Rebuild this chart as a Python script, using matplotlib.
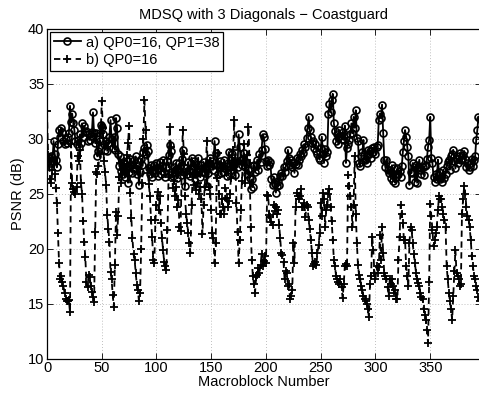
import numpy as np
import matplotlib
matplotlib.use("Agg")
import matplotlib.pyplot as plt

plt.rcParams['font.family'] = ['Liberation Sans', 'DejaVu Sans']
plt.rcParams['font.size'] = 10.5

title = "MDSQ with 3 Diagonals \u2212 Coastguard"
xlabel = "Macroblock Number"
ylabel = "PSNR (dB)"
label_a = "a) QP0=16, QP1=38"
label_b = "b) QP0=16"

psnr_a = [
    28.2, 28.0, 28.3, 27.8, 28.4, 28.0, 29.8, 28.6, 28.1, 27.4,
    29.5, 30.8, 30.2, 31.0, 30.6, 29.8, 29.5, 30.0, 29.6, 30.2,
    30.5, 33.0, 31.5, 32.3, 31.4, 30.8, 29.8, 29.5, 29.9, 29.3,
    30.4, 29.6, 31.4, 30.2, 31.2, 30.6, 30.7, 29.8, 30.4, 29.9,
    30.3, 30.6, 32.4, 30.5, 29.6, 30.5, 28.4, 28.9, 29.8, 31.3,
    31.1, 30.4, 29.5, 29.0, 29.8, 28.9, 29.6, 30.2, 31.7, 30.0,
    29.2, 30.2, 29.0, 31.9, 31.0, 28.6, 27.5, 28.4, 27.1, 26.8,
    27.8, 26.5, 27.4, 28.0, 26.0, 27.0, 28.2, 27.6, 26.9, 28.1,
    27.3, 28.4, 26.8, 27.5, 25.8, 27.0, 28.2, 27.6, 28.8, 29.2,
    28.6, 29.4, 28.9, 27.3, 26.8, 27.6, 26.5, 27.2, 27.6, 26.9,
    27.8, 26.6, 27.3, 27.9, 26.8, 27.5, 28.1, 27.0, 26.5, 27.4,
    28.0, 28.5, 29.4, 28.9, 27.0, 26.6, 27.4, 26.9, 27.8, 26.4,
    27.2, 27.8, 26.7, 28.2, 29.0, 27.0, 25.7, 27.3, 26.8, 27.9,
    27.2, 26.6, 28.3, 27.5, 28.0, 26.8, 27.6, 27.0, 28.3, 27.1,
    26.5, 27.6, 27.0, 27.9, 26.9, 27.4, 25.7, 26.9, 27.8, 28.3,
    27.5, 28.0, 27.2, 29.8, 28.7, 27.6, 26.8, 27.4, 28.0, 26.9,
    27.5, 27.0, 28.1, 27.3, 26.6, 27.8, 28.8, 27.5, 26.9, 28.6,
    27.2, 27.9, 26.7, 28.0, 27.4, 30.4, 29.3, 28.1, 27.6, 28.2,
    28.7, 27.4, 27.9, 26.8, 27.2, 26.4, 25.4, 26.3, 25.6, 27.6,
    27.0, 27.5, 28.1, 27.2, 28.6, 27.9, 29.0, 30.4, 30.2, 29.1,
    28.0, 27.5, 28.1, 27.6, 27.9, 26.3, 25.8, 26.5, 25.9, 25.1,
    25.7, 26.2, 25.8, 26.6, 26.9, 26.6, 27.4, 27.0, 27.5, 28.0,
    29.0, 28.3, 27.6, 28.1, 27.4, 27.8, 26.9, 27.7, 28.3, 27.6,
    28.1, 28.6, 28.4, 29.0, 28.7, 29.5, 29.3, 30.1, 31.0, 32.0,
    30.8, 30.2, 29.6, 29.8, 29.2, 29.5, 28.9, 28.6, 28.3, 28.1,
    29.2, 30.2, 28.6, 27.8, 29.1, 28.4, 28.8, 32.3, 33.2, 32.4,
    33.5, 34.1, 31.4, 30.7, 29.8, 30.4, 29.5, 30.8, 30.3, 30.0,
    30.6, 29.9, 31.2, 27.8, 29.2, 29.5, 29.9, 30.4, 31.4, 30.5,
    32.0, 31.0, 32.6, 30.1, 29.8, 27.8, 27.5, 28.4, 28.8, 29.9,
    28.1, 28.2, 27.8, 29.0, 28.6, 28.9, 28.3, 29.2, 28.8, 29.3,
    28.6, 29.3, 29.4, 31.7, 32.3, 31.9, 33.1, 30.5, 28.1, 27.4,
    28.1, 27.2, 26.9, 27.2, 26.4, 27.6, 26.2, 27.3, 26.0, 26.5,
    27.3, 26.8, 27.1, 26.5, 27.5, 28.8, 29.8, 30.8, 30.2, 29.3,
    28.4, 25.8, 27.0, 26.9, 27.8, 27.4, 26.1, 27.6, 26.0, 27.4,
    28.1, 27.2, 26.8, 27.4, 26.7, 27.5, 27.6, 28.2, 29.3, 29.9,
    32.0, 28.3, 27.8, 26.5, 26.1, 26.8, 26.3, 28.1, 27.0, 26.3,
    26.5, 26.1, 27.2, 26.4, 26.8, 27.5, 27.9, 28.1, 27.2, 28.4,
    28.6, 29.0, 28.0, 27.3, 28.2, 27.8, 28.4, 28.7, 28.1, 28.2,
    28.5, 28.9, 28.2, 27.4, 27.8, 27.2, 27.4, 27.8, 28.2, 27.5,
    28.1, 28.4, 29.9, 30.8, 32.0, 31.8,
]

psnr_b = [
    32.5, 28.5, 27.6, 26.3, 26.0, 27.2, 28.0, 26.8, 25.5, 24.2,
    21.4, 18.7, 17.2, 17.5, 17.0, 16.6, 16.0, 15.4, 15.2, 15.2,
    15.3, 14.2, 29.5, 26.0, 25.4, 25.2, 25.0, 25.6, 28.4, 28.0,
    29.0, 26.0, 25.0, 22.5, 20.6, 19.2, 17.0, 16.5, 17.6, 17.4,
    16.6, 16.1, 15.6, 15.1, 21.5, 27.0, 26.8, 27.5, 28.6, 30.5,
    33.4, 31.0, 28.0, 27.0, 25.8, 23.1, 21.8, 20.6, 17.9, 17.2,
    15.8, 14.7, 18.5, 23.3, 21.2, 23.0, 26.5, 27.8, 26.0, 27.5,
    28.0, 26.8, 27.4, 28.5, 29.6, 31.2, 25.1, 22.8, 21.0, 19.5,
    19.0, 17.8, 16.7, 16.2, 15.2, 16.0, 20.0, 26.0, 30.0, 33.5,
    30.8, 29.2, 26.9, 25.9, 24.8, 22.6, 21.1, 19.0, 18.7, 22.6,
    24.0, 25.2, 23.5, 24.8, 22.3, 21.0, 19.9, 18.8, 18.4, 18.1,
    21.7, 26.5, 31.1, 29.3, 27.0, 25.5, 26.2, 24.8, 25.6, 23.8,
    24.4, 22.0, 21.6, 27.0, 30.8, 28.6, 24.8, 23.2, 22.3, 21.4,
    20.5, 19.6, 24.0, 26.5, 25.8, 26.8, 25.3, 27.0, 26.0, 25.0,
    25.6, 24.5, 21.3, 24.0, 25.6, 27.5, 29.8, 27.0, 25.6, 25.0,
    23.5, 21.4, 21.0, 18.7, 20.5, 26.4, 28.7, 25.0, 23.2, 23.2,
    24.5, 23.8, 23.2, 25.5, 24.6, 23.8, 24.3, 25.0, 26.4, 28.5,
    29.0, 31.7, 28.0, 24.2, 21.5, 18.7, 20.8, 23.5, 26.2, 28.0,
    29.5, 26.0, 28.0, 28.5, 31.1, 27.8, 22.0, 19.0, 17.5, 16.8,
    16.0, 17.4, 17.6, 18.2, 17.8, 18.5, 19.5, 18.4, 18.9, 19.3,
    18.7, 24.9, 24.8, 23.1, 22.9, 22.4, 22.2, 24.0, 23.4, 23.8,
    23.2, 23.5, 22.2, 21.0, 19.6, 19.4, 18.8, 17.2, 18.0, 17.8,
    16.6, 16.8, 15.4, 15.7, 16.2, 20.5, 18.7, 23.8, 25.1, 24.8,
    24.5, 24.8, 25.4, 23.8, 23.8, 24.2, 22.9, 24.0, 23.8, 22.6,
    21.8, 20.8, 19.6, 18.4, 18.6, 18.8, 18.5, 19.6, 20.3, 21.4,
    24.2, 23.0, 25.1, 24.5, 22.0, 23.5, 24.0, 25.0, 25.4, 23.8,
    22.5, 20.8, 19.0, 18.4, 17.5, 17.2, 17.0, 16.8, 17.2, 16.5,
    15.5, 16.8, 18.4, 18.6, 18.4, 26.7, 25.7, 24.8, 23.8, 22.0,
    24.0, 28.4, 23.2, 20.5, 18.5, 17.6, 17.2, 16.6, 16.2, 15.7,
    15.4, 15.2, 15.0, 14.5, 13.8, 16.8, 17.5, 21.1, 19.9, 17.8,
    17.2, 18.4, 17.8, 18.3, 21.2, 19.0, 22.0, 19.6, 17.8, 17.5,
    17.2, 16.5, 15.7, 17.2, 16.8, 17.2, 16.6, 16.0, 16.2, 15.4,
    15.4, 19.0, 21.1, 24.0, 23.2, 22.3, 20.8, 20.8, 18.4, 17.5,
    16.6, 20.5, 22.0, 21.7, 20.5, 19.5, 18.7, 17.8, 17.2, 16.9,
    16.6, 16.0, 15.6, 15.4, 14.5, 14.0, 13.5, 12.6, 11.4, 17.0,
    24.1, 23.0, 21.7, 20.2, 20.8, 21.4, 22.0, 23.5, 24.8, 24.5,
    24.5, 23.8, 23.2, 22.6, 22.0, 18.4, 17.2, 16.0, 15.2, 14.5,
    13.5, 15.7, 18.0, 19.9, 17.8, 17.5, 17.2, 16.6, 16.8, 23.2,
    24.5, 25.7, 25.0, 23.8, 23.0, 22.6, 22.0, 20.8, 19.3, 18.4,
    17.5, 17.2, 16.6, 16.2, 15.6, 15.2,
]

macroblock = np.arange(len(psnr_a))
xticks = [0, 50, 100, 150, 200, 250, 300, 350]
yticks = [10, 15, 20, 25, 30, 35, 40]

W, H = 479, 396
fig = plt.figure(figsize=(W / 100, H / 100), dpi=100)
ax = fig.add_axes([47 / W, (H - 358.5) / H, (480.6 - 47) / W, (358.5 - 29) / H])

ax.plot(macroblock, psnr_a, '-', color='black', lw=1.3, marker='o',
        markersize=5, markerfacecolor='none', markeredgewidth=1.2,
        label=label_a)
ax.plot(macroblock, psnr_b, '--', color='black', lw=1.3, marker='+',
        markersize=5.5, markeredgewidth=1.3, dashes=(3.5, 2.5), label=label_b)

ax.set_xlim(0, 396)
ax.set_ylim(10, 40)
ax.set_xticks(xticks)
ax.set_yticks(yticks)
ax.tick_params(direction='in', top=True, right=True, length=4, width=0.6,
               labelsize=10.5, pad=2)
ax.grid(True, linestyle=(0, (1, 2.5)), color='#aaaaaa', linewidth=0.6)
for s in ax.spines.values():
    s.set_linewidth(0.9)

ax.set_title(title, fontsize=10.5, pad=7)
ax.set_xlabel(xlabel, fontsize=10.5, labelpad=0)
ax.set_ylabel(ylabel, fontsize=10.5, labelpad=2)

leg = ax.legend(loc='upper left', borderaxespad=0.2, handlelength=1.9,
                handletextpad=0.3, labelspacing=0.25, borderpad=0.25,
                fancybox=False, framealpha=1, edgecolor='black', fontsize=10.5)
leg.get_frame().set_linewidth(0.9)

fig.savefig('out.png', dpi=100)
